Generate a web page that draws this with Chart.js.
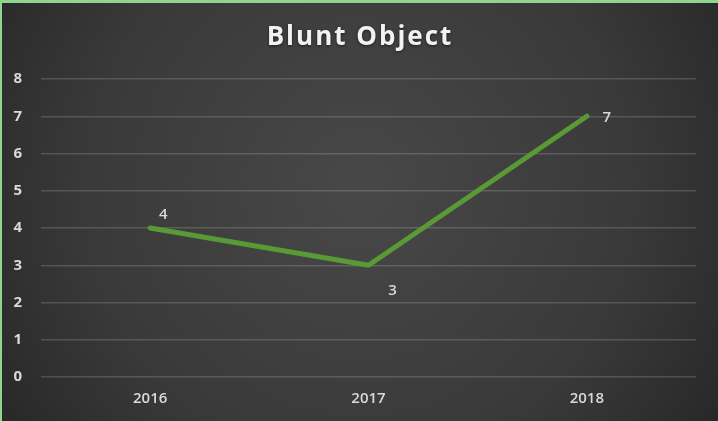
<!DOCTYPE html>
<html>
<head>
<meta charset="utf-8">
<script src="https://cdn.jsdelivr.net/npm/chart.js@4"></script>
<style>
html,body{margin:0;padding:0;background:#2a2a2a;}
#wrap{position:relative;width:718px;height:421px;overflow:hidden;}
#wrap:before{content:"";position:absolute;left:0;top:0;width:718px;height:3px;background:#8fd48f;z-index:2;}
#wrap:after{content:"";position:absolute;left:0;top:0;width:2px;height:421px;background:#8fd48f;z-index:2;}
canvas{display:block;}
</style>
</head>
<body>
<div id="wrap"><canvas id="c" width="718" height="421"></canvas></div>
<script>
const chartTitle = "Blunt Object";
const categories = ["2016", "2017", "2018"];
const seriesValues = [4, 3, 7];
const yTicks = [0, 1, 2, 3, 4, 5, 6, 7, 8];

const bgPlugin = {
  id: 'bg',
  beforeDraw(chart) {
    const ctx = chart.ctx, w = chart.width, h = chart.height;
    const g = ctx.createRadialGradient(w * 0.5, h * 0.45, 20, w * 0.5, h * 0.45, w * 0.62);
    g.addColorStop(0, '#474747');
    g.addColorStop(0.6, '#393939');
    g.addColorStop(1, '#262626');
    ctx.save();
    ctx.fillStyle = g;
    ctx.fillRect(0, 0, w, h);
    ctx.restore();
  }
};

const titlePlugin = {
  id: 'spacedTitle',
  afterDraw(chart) {
    const ctx = chart.ctx;
    ctx.save();
    ctx.font = 'bold 26px "Open Sans", sans-serif';
    if ('letterSpacing' in ctx) ctx.letterSpacing = '2px';
    ctx.fillStyle = '#f2f2f2';
    ctx.textAlign = 'center';
    ctx.textBaseline = 'middle';
    ctx.shadowColor = 'rgba(0,0,0,0.5)';
    ctx.shadowBlur = 3;
    ctx.shadowOffsetY = 1;
    ctx.fillText(chartTitle, chart.width / 2 + 1, 38);
    ctx.restore();
  }
};

const labelPlugin = {
  id: 'valueLabels',
  afterDatasetsDraw(chart) {
    const ctx = chart.ctx;
    const meta = chart.getDatasetMeta(0);
    const offs = [[13, -13], [24, 25], [20, 1]];
    ctx.save();
    ctx.font = '600 15px "Open Sans", sans-serif';
    ctx.fillStyle = '#d9d9d9';
    ctx.textAlign = 'center';
    ctx.textBaseline = 'middle';
    meta.data.forEach((pt, i) => {
      const o = offs[i] || [0, -12];
      ctx.fillText(String(chart.data.datasets[0].data[i]), pt.x + o[0], pt.y + o[1]);
    });
    ctx.restore();
  }
};

new Chart(document.getElementById('c'), {
  type: 'line',
  data: {
    labels: categories,
    datasets: [{
      label: chartTitle,
      data: seriesValues,
      borderColor: '#5a9a36',
      borderWidth: 5,
      pointRadius: 0,
      tension: 0,
      fill: false,
      borderCapStyle: 'round',
      borderJoinStyle: 'round'
    }]
  },
  options: {
    responsive: false,
    animation: false,
    layout: { padding: { left: 0, right: 22, top: 79, bottom: 0 } },
    plugins: {
      legend: { display: false },
      tooltip: { enabled: false },
      title: { display: false }
    },
    scales: {
      x: {
        offset: true,
        grid: { display: false, drawTicks: false },
        border: { display: false },
        ticks: { color: '#d9d9d9', font: { family: '"Open Sans", sans-serif', size: 15, weight: '600' }, padding: 13 },
        afterFit(s) { s.height = 44; }
      },
      y: {
        min: 0,
        max: 8,
        afterBuildTicks(s) { s.ticks = yTicks.map(v => ({ value: v })); },
        grid: { color: 'rgba(255,255,255,0.16)', lineWidth: 1.5, drawTicks: false },
        border: { display: false },
        ticks: { color: '#d9d9d9', font: { family: '"Open Sans", sans-serif', size: 15, weight: 'bold' }, padding: 19 },
        afterFit(s) { s.width = 41; }
      }
    }
  },
  plugins: [bgPlugin, titlePlugin, labelPlugin]
});
</script>
</body>
</html>
